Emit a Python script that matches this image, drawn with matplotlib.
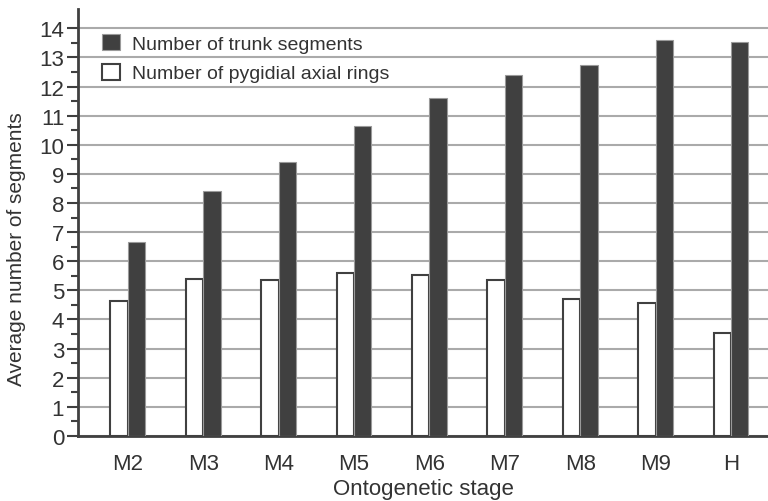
import numpy as np
import matplotlib
matplotlib.use("Agg")
import matplotlib.pyplot as plt

# values
stages = ["M2", "M3", "M4", "M5", "M6", "M7", "M8", "M9", "H"]
trunk_segments = [6.65, 8.41, 9.40, 10.63, 11.60, 12.39, 12.73, 13.59, 13.52]
pygidial_rings = [4.62, 5.40, 5.36, 5.60, 5.52, 5.35, 4.72, 4.58, 3.52]

plt.rcParams['font.family'] = ['Liberation Sans', 'DejaVu Sans']
text_col = '#333333'
dark = '#404040'

fig = plt.figure(figsize=(7.68, 5.02), dpi=100)
ax = fig.add_axes([0.1016, 0.1295, 0.8984, 0.8505])

x = np.arange(len(stages))
w = 0.23
ax.bar(x - 0.115, pygidial_rings, w, color='white', edgecolor=dark, linewidth=1.5,
       label='Number of pygidial axial rings', zorder=3)
ax.bar(x + 0.115, trunk_segments, w, color=dark, edgecolor='#9a9a9a', linewidth=0.8,
       label='Number of trunk segments', zorder=3)

ax.set_xlim(-0.66, 8.49)
ax.set_ylim(0, 14.66)
ax.set_yticks(range(0, 15))
ax.set_yticks(np.arange(0.5, 14.5, 1), minor=True)
ax.set_xticks(x)
ax.set_xticklabels(stages)
ax.yaxis.grid(True, color='#aaaaaa', linewidth=1.5, zorder=0)
ax.set_axisbelow(True)

for s in ['top', 'right']:
    ax.spines[s].set_visible(False)
for s in ['left', 'bottom']:
    ax.spines[s].set_color(dark)
    ax.spines[s].set_linewidth(2)

ax.tick_params(axis='y', which='major', length=8, width=1.5, color=dark,
               labelsize=16, labelcolor=text_col, pad=2)
ax.tick_params(axis='y', which='minor', length=5, width=1.5, color=dark)
ax.tick_params(axis='x', length=0, labelsize=16, labelcolor=text_col, pad=12)

ax.set_xlabel('Ontogenetic stage', fontsize=16, color=text_col, labelpad=3)
ax.set_ylabel('Average number of segments', fontsize=15, color=text_col)
ax.yaxis.set_label_coords(-0.076, 0.44)

handles, labels = ax.get_legend_handles_labels()
ax.legend(handles[::-1], labels[::-1], loc='upper left', bbox_to_anchor=(0.01, 0.982),
          frameon=False, fontsize=14, labelcolor=text_col, handlelength=0.9,
          handleheight=0.9, handletextpad=0.6, labelspacing=0.55)

fig.savefig('out.png', dpi=100)
